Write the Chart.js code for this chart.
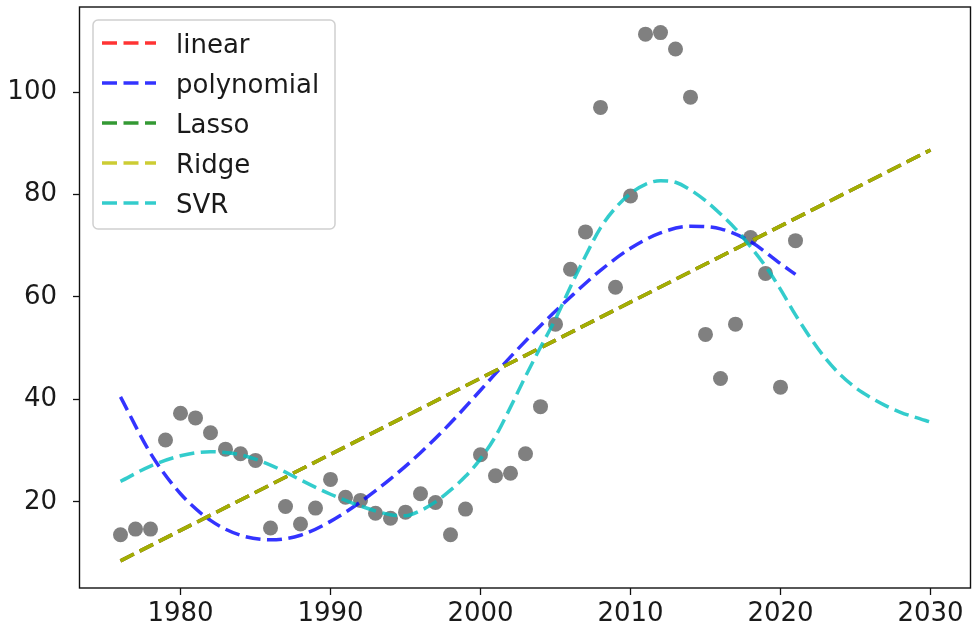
<!DOCTYPE html>
<html lang="en">
  <head>
    <meta charset="UTF-8" />
    <title>Regression fits</title>
    <script src="https://cdn.jsdelivr.net/npm/chart.js"></script>
    <style>
      body { margin: 0; background: #fff; }
      #wrap { width: 972px; height: 635px; }
    </style>
  </head>
  <body>
    <div id="wrap"><canvas id="fitChart"></canvas></div>

    <script>
      const years = [
        1976, 1977, 1978, 1979, 1980, 1981, 1982, 1983, 1984, 1985, 1986, 1987,
        1988, 1989, 1990, 1991, 1992, 1993, 1994, 1995, 1996, 1997, 1998, 1999,
        2000, 2001, 2002, 2003, 2004, 2005, 2006, 2007, 2008, 2009, 2010, 2011,
        2012, 2013, 2014, 2015, 2016, 2017, 2018, 2019, 2020, 2021,
      ];
      const observed = [
        13.6, 14.7, 14.7, 32.1, 37.3, 36.4, 33.5, 30.3, 29.4, 28.1, 14.9, 19.1,
        15.7, 18.8, 24.4, 20.9, 20.3, 17.8, 16.8, 18.0, 21.6, 19.9, 13.6, 18.6,
        29.2, 25.1, 25.6, 29.4, 38.6, 54.7, 65.4, 72.7, 97.0, 61.9, 79.7, 111.3,
        111.6, 108.4, 99.0, 52.7, 44.1, 54.7, 71.6, 64.6, 42.4, 71.0,
      ];

      // straight fits, end points only
      const lineYears = [1976, 2030];
      const linearFit = [8.5, 88.7];
      const lassoFit = [8.5, 88.7];
      const ridgeFit = [8.5, 88.7];

      const polyYears = [
        1976, 1978, 1980, 1982, 1984, 1986, 1988, 1990, 1992, 1994, 1996, 1998,
        2000, 2002, 2004, 2006, 2008, 2010, 2012, 2014, 2016, 2018, 2020, 2021,
      ];
      const polyFit = [
        40.5, 29.5, 21.6, 16.4, 13.5, 12.6, 13.5, 16.2, 20.0, 24.5, 29.6, 35.4,
        41.8, 48.3, 54.4, 60.0, 65.2, 69.5, 72.5, 73.8, 73.3, 70.8, 66.5, 64.4,
      ];

      const svrYears = [
        1976, 1978, 1980, 1982, 1984, 1986, 1988, 1990, 1992, 1994, 1995, 1996,
        1997, 1998, 1999, 2000, 2001, 2002, 2003, 2004, 2005, 2006, 2007, 2008,
        2009, 2010, 2011, 2012, 2013, 2014, 2015, 2016, 2017, 2018, 2019, 2020,
        2021, 2022, 2023, 2024, 2025, 2026, 2027, 2028, 2029, 2030,
      ];
      const svrFit = [
        24.0, 27.0, 29.0, 29.8, 29.2, 27.2, 24.3, 21.5, 19.2, 17.5, 17.3, 18.3,
        20.0, 22.3, 25.0, 28.4, 32.8, 38.5, 44.5, 50.2, 55.7, 62.0, 68.0, 73.5,
        77.4, 80.2, 82.0, 82.7, 82.4, 80.9, 78.8, 76.2, 73.3, 69.8, 66.0, 61.5,
        56.5, 52.0, 48.0, 44.8, 42.3, 40.4, 38.8, 37.5, 36.5, 35.6,
      ];

      const xTicks = [1980, 1990, 2000, 2010, 2020, 2030];
      const yTicks = [20, 40, 60, 80, 100];

      const pts = (xs, ys) => xs.map((x, i) => ({ x: x, y: ys[i] }));
      const FONT = { family: "DejaVu Sans", size: 26 };
      const DASH = [15, 6.5];

      function fitLine(label, color, xs, ys, order, smooth) {
        return {
          type: "line",
          label: label,
          data: pts(xs, ys),
          borderColor: color,
          borderWidth: 3.5,
          borderDash: DASH,
          pointRadius: 0,
          fill: false,
          cubicInterpolationMode: smooth ? "monotone" : "default",
          order: order,
          inLegend: true,
        };
      }

      // no label overhang padding, the plot box is fixed
      function noPad(s) {
        s.paddingLeft = 0;
        s.paddingRight = 0;
        s.paddingTop = 0;
        s.paddingBottom = 0;
      }

      // matplotlib style frame round the plot area
      const frame = {
        id: "frame",
        afterDatasetsDraw(chart) {
          const a = chart.chartArea;
          const ctx = chart.ctx;
          ctx.save();
          ctx.strokeStyle = "#111";
          ctx.lineWidth = 1.4;
          ctx.strokeRect(a.left - 0.5, a.top, a.right - a.left, a.bottom - a.top);
          ctx.restore();
        },
      };

      // boxed legend in the upper left corner
      const boxLegend = {
        id: "boxLegend",
        afterDraw(chart) {
          const ctx = chart.ctx;
          const items = chart.data.datasets.filter((d) => d.inLegend);
          ctx.save();
          ctx.beginPath();
          ctx.roundRect(93, 20, 242, 209, 5);
          ctx.fillStyle = "rgba(255,255,255,0.8)";
          ctx.fill();
          ctx.strokeStyle = "#d0d0d0";
          ctx.lineWidth = 1.5;
          ctx.stroke();
          items.forEach((d, i) => {
            const y = 43 + i * 40;
            ctx.setLineDash(DASH);
            ctx.strokeStyle = d.borderColor;
            ctx.lineWidth = d.borderWidth;
            ctx.beginPath();
            ctx.moveTo(102, y);
            ctx.lineTo(156, y);
            ctx.stroke();
            ctx.setLineDash([]);
            ctx.fillStyle = "#1a1a1a";
            ctx.font = FONT.size + 'px "DejaVu Sans"';
            ctx.textBaseline = "alphabetic";
            ctx.fillText(d.label, 176, y + 10);
          });
          ctx.restore();
        },
      };

      const ctx = document.getElementById("fitChart").getContext("2d");
      const fitChart = new Chart(ctx, {
        type: "scatter",
        data: {
          datasets: [
            fitLine("linear", "rgba(255,0,0,0.8)", lineYears, linearFit, 5, false),
            fitLine("polynomial", "rgba(0,0,255,0.8)", polyYears, polyFit, 4, true),
            fitLine("Lasso", "rgba(0,128,0,0.8)", lineYears, lassoFit, 3, false),
            fitLine("Ridge", "rgba(191,191,0,0.8)", lineYears, ridgeFit, 2, false),
            fitLine("SVR", "rgba(0,191,191,0.8)", svrYears, svrFit, 1, true),
            {
              type: "scatter",
              label: "data",
              data: pts(years, observed),
              backgroundColor: "#808080",
              borderWidth: 0,
              pointRadius: 7.5,
              order: 10,
            },
          ],
        },
        options: {
          responsive: true,
          maintainAspectRatio: false,
          animation: false,
          layout: {
            autoPadding: false,
            padding: { top: 7, right: 1, left: 0, bottom: 0 },
          },
          plugins: {
            legend: { display: false },
            tooltip: { enabled: false },
          },
          scales: {
            x: {
              type: "linear",
              min: 1973.3,
              max: 2032.7,
              afterBuildTicks: (s) => { s.ticks = xTicks.map((v) => ({ value: v })); },
              afterFit: (s) => {
                s.height = 47;
                noPad(s);
              },
              border: { display: false },
              grid: { drawOnChartArea: false, tickLength: 7, tickColor: "#111", tickWidth: 1.3 },
              ticks: {
                font: FONT,
                color: "#1a1a1a",
                padding: 4,
                maxRotation: 0,
                autoSkip: false,
                callback: (v) => String(v),
              },
            },
            y: {
              type: "linear",
              min: 3.2,
              max: 116.6,
              afterBuildTicks: (s) => { s.ticks = yTicks.map((v) => ({ value: v })); },
              afterFit: (s) => {
                s.width = 80;
                noPad(s);
              },
              border: { display: false },
              grid: { drawOnChartArea: false, tickLength: 7, tickColor: "#111", tickWidth: 1.3 },
              ticks: {
                font: FONT,
                color: "#1a1a1a",
                padding: 16,
                autoSkip: false,
                callback: (v) => String(v),
              },
            },
          },
        },
        plugins: [frame, boxLegend],
      });
    </script>
  </body>
</html>
